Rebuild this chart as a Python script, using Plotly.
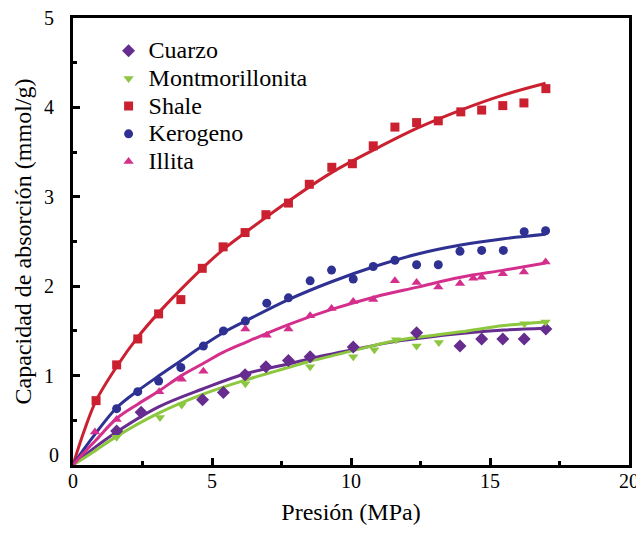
import plotly.graph_objects as go

# ---------------- data ----------------
series_names = ["Cuarzo", "Montmorillonita", "Shale", "Kerogeno", "Illita"]

cuarzo_x = [1.57, 2.45, 4.66, 5.41, 6.19, 6.94, 7.75, 8.53, 10.08, 12.36, 13.92, 14.70, 15.46, 16.23, 17.01]
cuarzo_y = [0.38, 0.59, 0.73, 0.81, 1.01, 1.10, 1.17, 1.21, 1.32, 1.48, 1.33, 1.41, 1.41, 1.41, 1.52]

montm_x = [1.57, 3.13, 3.91, 6.20, 8.53, 10.08, 10.84, 11.62, 12.36, 13.16, 16.24, 17.00]
montm_y = [0.31, 0.53, 0.67, 0.91, 1.10, 1.21, 1.29, 1.40, 1.33, 1.37, 1.58, 1.60]

shale_x = [0.83, 1.57, 2.33, 3.08, 3.88, 4.65, 5.40, 6.19, 6.94, 7.75, 8.50, 9.31, 10.05,
           10.80, 11.58, 12.36, 13.14, 13.95, 14.70, 15.46, 16.22, 17.01]
shale_y = [0.72, 1.12, 1.41, 1.69, 1.85, 2.20, 2.44, 2.60, 2.80, 2.93, 3.14, 3.33, 3.37,
           3.57, 3.78, 3.83, 3.85, 3.95, 3.97, 4.02, 4.05, 4.21]

kero_x = [1.57, 2.33, 3.08, 3.88, 4.69, 5.41, 6.20, 6.97, 7.75, 8.53, 9.30, 10.08, 10.80,
          11.58, 12.36, 13.14, 13.92, 14.70, 15.48, 16.23, 17.00]
kero_y = [0.63, 0.82, 0.94, 1.09, 1.33, 1.50, 1.61, 1.81, 1.87, 2.06, 2.18, 2.08, 2.22,
          2.29, 2.24, 2.24, 2.39, 2.40, 2.40, 2.61, 2.62]

illita_x = [0.79, 1.57, 3.10, 3.91, 4.69, 6.20, 6.97, 7.75, 8.53, 9.30, 10.08, 10.80, 11.58,
            12.36, 13.14, 13.92, 14.40, 14.70, 15.46, 16.22, 17.00]
illita_y = [0.37, 0.51, 0.82, 0.96, 1.05, 1.52, 1.45, 1.52, 1.67, 1.75, 1.83, 1.85, 2.06,
            2.04, 1.99, 2.03, 2.09, 2.10, 2.14, 2.16, 2.27]

# fitted curves
fit_x_a = [0, 0.4, 0.83, 1.57, 2.33, 3.1, 3.9, 4.65, 5.4, 6.2, 7.75, 9.3, 10.85, 12.4, 13.95, 15.5, 17]
shale_fit = [0, 0.38, 0.72, 1.10, 1.43, 1.71, 1.97, 2.20, 2.41, 2.60, 2.95, 3.27, 3.53, 3.77, 3.97, 4.14, 4.27]
kero_fit = [0, 0.18, 0.36, 0.64, 0.83, 1.00, 1.17, 1.33, 1.48, 1.61, 1.85, 2.05, 2.22, 2.36, 2.46, 2.53, 2.58]
illita_fit = [0, 0.14, 0.28, 0.52, 0.68, 0.83, 1.00, 1.13, 1.26, 1.37, 1.57, 1.74, 1.88, 1.99, 2.10, 2.18, 2.26]

fit_x_b = [0, 0.8, 1.57, 3.08, 4.66, 6.2, 7.75, 8.53, 10.08, 11.58, 13.95, 15.5, 17]
cuarzo_fit = [0, 0.20, 0.37, 0.65, 0.85, 1.02, 1.13, 1.19, 1.29, 1.38, 1.47, 1.51, 1.53]
montm_fit = [0, 0.16, 0.32, 0.58, 0.79, 0.95, 1.09, 1.16, 1.28, 1.39, 1.49, 1.56, 1.60]

x_ticks = [0, 5, 10, 15, 20]
y_ticks = [1, 2, 3, 4, 5]

# ---------------- styles ----------------
colors = {
    "Cuarzo": "#662D8F",
    "Montmorillonita": "#8DC63F",
    "Shale": "#CB2030",
    "Kerogeno": "#2E3192",
    "Illita": "#D42F8C",
}
symbols = {
    "Cuarzo": "diamond",
    "Montmorillonita": "triangle-down",
    "Shale": "square",
    "Kerogeno": "circle",
    "Illita": "triangle-up",
}
sizes = {"Cuarzo": 10, "Montmorillonita": 9, "Shale": 9, "Kerogeno": 9, "Illita": 9}

pts = {
    "Cuarzo": (cuarzo_x, cuarzo_y),
    "Montmorillonita": (montm_x, montm_y),
    "Shale": (shale_x, shale_y),
    "Kerogeno": (kero_x, kero_y),
    "Illita": (illita_x, illita_y),
}
fits = {
    "Shale": (fit_x_a, shale_fit),
    "Kerogeno": (fit_x_a, kero_fit),
    "Illita": (fit_x_a, illita_fit),
    "Cuarzo": (fit_x_b, cuarzo_fit),
    "Montmorillonita": (fit_x_b, montm_fit),
}

FONT = "'Liberation Serif', Tinos, 'Times New Roman', 'DejaVu Serif', serif"
TICK_SIZE = 20
TITLE_SIZE = 24

fig = go.Figure()

for name in ["Cuarzo", "Montmorillonita", "Shale", "Kerogeno", "Illita"]:
    fx, fy = fits[name]
    fig.add_trace(go.Scatter(
        x=fx, y=fy, mode="lines", line=dict(color=colors[name], width=3, shape="spline"),
        showlegend=False, hoverinfo="skip"))

for name in series_names:
    px, py = pts[name]
    fig.add_trace(go.Scatter(
        x=px, y=py, mode="markers",
        name="<span style='font-size:24px'>" + name + "</span>",
        marker=dict(symbol=symbols[name], size=sizes[name], color=colors[name],
                    line=dict(width=0))))

axis_common = dict(
    showline=True, linecolor="black", linewidth=3, mirror=True,
    ticks="inside", tickcolor="black", tickwidth=3, ticklen=7,
    showgrid=False, zeroline=False, automargin=False,
    ticklabeloverflow="allow",
    tickfont=dict(family=FONT, size=TICK_SIZE, color="black"),
)

fig.update_xaxes(
    range=[0, 20], tickvals=x_ticks, ticktext=[str(v) for v in x_ticks],
    minor=dict(ticks="inside", dtick=2.5, ticklen=4, tickwidth=3, tickcolor="black"),
    title=dict(text="Presión (MPa)", font=dict(family=FONT, size=TITLE_SIZE, color="black"),
               standoff=13),
    ticklabelstandoff=-4,
    **axis_common)

fig.update_yaxes(
    range=[0, 5], tickvals=y_ticks, ticktext=[str(v) for v in y_ticks],
    minor=dict(ticks="inside", dtick=0.5, ticklen=4, tickwidth=3, tickcolor="black"),
    title=dict(text="Capacidad de absorción (mmol/g)",
               font=dict(family=FONT, size=TITLE_SIZE, color="black"), standoff=6),
    ticklabelstandoff=12,
    **axis_common)

fig.add_annotation(text="0", xref="paper", yref="paper", x=0, y=0.022,
                   xanchor="right", yanchor="middle", xshift=-12, showarrow=False,
                   font=dict(family=FONT, size=TICK_SIZE, color="black"))

# page body has an 8px margin: figure is shrunk so the plot area lands where the reference has it
fig.update_layout(
    width=636, height=526,
    margin=dict(l=65, r=15, t=10, b=69),
    paper_bgcolor="white", plot_bgcolor="white",
    font=dict(family=FONT, color="black"),
    legend=dict(x=0.064, y=0.969, xanchor="left", yanchor="top",
                bgcolor="rgba(0,0,0,0)", font=dict(family=FONT, size=19, color="black"),
                tracegroupgap=0, itemwidth=30),
)

fig.write_html("out.html")
